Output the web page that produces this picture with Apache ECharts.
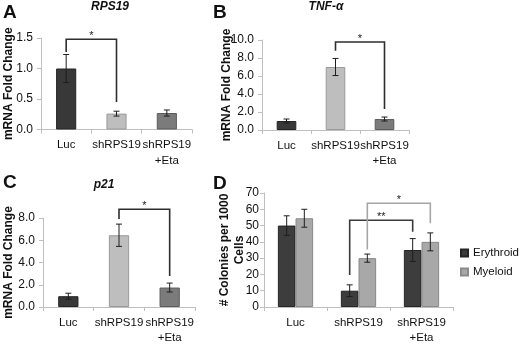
<!DOCTYPE html>
<html>
<head>
<meta charset="utf-8">
<script src="https://cdn.jsdelivr.net/npm/echarts@6/dist/echarts.min.js"></script>
<style>
  html, body { margin: 0; padding: 0; background: #fff; }
  #chart { width: 520px; height: 346px; }
</style>
</head>
<body>
<div id="chart"></div>
<script>
// 数据
const categories = ['Luc', 'shRPS19', 'shRPS19\n+Eta']

const rpsMean = [1.0, 0.26, 0.27]
const rpsErr = [0.23, 0.04, 0.05]

const tnfMean = [1.0, 7.0, 1.22]
const tnfErr = [0.22, 0.95, 0.22]

const p21Mean = [0.97, 6.45, 1.75]
const p21Err = [0.27, 1.0, 0.4]

const erythroidMean = [50, 10, 35]
const erythroidErr = [6, 3.6, 7]
const myeloidMean = [54.5, 30, 40]
const myeloidErr = [5.5, 2.5, 5.5]

// 显著性标记 [起始类别, 结束类别, 横线高度, 左端底, 右端底]
const rpsSig = [[0, 1, 1.48, 1.27, 0.45]]
const tnfSig = [[1, 2, 9.78, 8.8, 2.33]]
const p21Sig = [[1, 2, 8.79, 7.91, 2.79]]
// D: [起始类别, 起始序列, 结束类别, 结束序列, 横线高度, 左端底, 右端底, 文本]
const colonySig = [
  [1, 0, 2, 0, 53.3, 19.6, 46.2, '**'],
  [1, 1, 2, 1, 63.7, 35.3, 51.5, '*']
]

const font = "'Liberation Sans', Arial, sans-serif"
const barColors = ['#383838', '#bebebe', '#7b7b7b']
const barBorders = ['#242424', '#9a9a9a', '#5c5c5c']
const axisGray = '#bfbfbf'
const pairWidth = 0.28

const chart = echarts.init(document.getElementById('chart'))

function errRender(offset) {
  return function (params, api) {
    const cat = api.value(0)
    const mean = api.value(1)
    const err = api.value(2)
    const band = api.size([1, 0])[0]
    const top = api.coord([cat, mean + err])
    const bot = api.coord([cat, mean - err])
    const x = top[0] + offset * band
    const style = { stroke: '#1e1e1e', lineWidth: 1 }
    return {
      type: 'group',
      children: [
        { type: 'line', shape: { x1: x, y1: top[1], x2: x, y2: bot[1] }, style },
        { type: 'line', shape: { x1: x - 3, y1: top[1], x2: x + 3, y2: top[1] }, style },
        { type: 'line', shape: { x1: x - 3, y1: bot[1], x2: x + 3, y2: bot[1] }, style }
      ]
    }
  }
}

function sigRender(color) {
  return function (params, api) {
    const d = params.dataIndex
    const item = params.seriesId === 'sigD' ? colonySig[d] : null
    let c0, o0, c1, o1, yTop, yL, yR, label
    if (item) {
      [c0, o0, c1, o1, yTop, yL, yR, label] = item
      o0 = o0 === 0 ? -pairWidth / 2 : pairWidth / 2
      o1 = o1 === 0 ? -pairWidth / 2 : pairWidth / 2
    } else {
      c0 = api.value(0); c1 = api.value(1)
      yTop = api.value(2); yL = api.value(3); yR = api.value(4)
      o0 = 0; o1 = 0
      label = '*'
    }
    const band = api.size([1, 0])[0]
    const pl = api.coord([c0, yL])
    const pt = api.coord([c0, yTop])
    const pr = api.coord([c1, yR])
    const xl = pl[0] + o0 * band
    const xr = pr[0] + o1 * band
    const lineColor = typeof color === 'function' ? color(d) : color
    return {
      type: 'group',
      children: [
        {
          type: 'polyline',
          shape: { points: [[xl, pl[1]], [xl, pt[1]], [xr, pt[1]], [xr, pr[1]]] },
          style: { stroke: lineColor, lineWidth: 1.6, fill: null }
        },
        {
          type: 'text',
          x: (xl + xr) / 2,
          y: pt[1] - 3,
          style: {
            text: label, align: 'center', verticalAlign: 'middle',
            font: '11px ' + font, fill: '#222'
          }
        }
      ]
    }
  }
}

function xAxisOf(gi) {
  return {
    type: 'category', gridIndex: gi, data: categories,
    axisLine: { lineStyle: { color: axisGray } },
    axisTick: { show: true, length: 4, lineStyle: { color: axisGray } },
    axisLabel: { interval: 0, color: '#111', fontSize: 11.5, fontFamily: font, lineHeight: 15.5, margin: 8 }
  }
}

function yAxisOf(gi, max, step, digits, name, gap, labelMargin) {
  return {
    type: 'value', gridIndex: gi, min: 0, max, interval: step,
    name, nameLocation: 'middle', nameGap: gap, nameRotate: 90, nameMoveOverlap: false,
    nameTextStyle: { fontSize: 12, fontWeight: 'bold', fontFamily: font, color: '#111', lineHeight: 15 },
    axisLine: { show: true, lineStyle: { color: axisGray } },
    axisTick: { show: true, length: 4, lineStyle: { color: axisGray } },
    splitLine: { show: false },
    axisLabel: {
      color: '#111', fontSize: 12, fontFamily: font, margin: labelMargin,
      formatter: v => v.toFixed(digits)
    }
  }
}

function barSeries(gi, values) {
  return {
    type: 'bar', xAxisIndex: gi, yAxisIndex: gi, barWidth: '40%',
    data: values.map((v, i) => ({
      value: v,
      itemStyle: { color: barColors[i], borderColor: barBorders[i], borderWidth: 1 }
    })),
    silent: true
  }
}

function errSeries(gi, means, errs, offset) {
  return {
    type: 'custom', xAxisIndex: gi, yAxisIndex: gi, z: 5,
    renderItem: errRender(offset || 0),
    data: means.map((m, i) => [i, m, errs[i]]),
    silent: true
  }
}

function sigSeries(gi, rows) {
  return {
    type: 'custom', xAxisIndex: gi, yAxisIndex: gi, z: 6,
    renderItem: sigRender('#2e2e2e'),
    data: rows,
    silent: true
  }
}

const titleStyle = { fontSize: 12, fontWeight: 'bold', fontStyle: 'italic', fontFamily: font, color: '#111' }
const letterStyle = { fontSize: 19, fontWeight: 'bold', fontFamily: font, color: '#111' }

chart.setOption({
  animation: false,
  title: [
    { text: 'A', left: 3, top: 3, padding: 0, textStyle: letterStyle },
    { text: 'B', left: 213, top: 3, padding: 0, textStyle: letterStyle },
    { text: 'C', left: 3, top: 173, padding: 0, textStyle: letterStyle },
    { text: 'D', left: 213, top: 174, padding: 0, textStyle: letterStyle },
    { text: 'RPS19', left: 110, top: 1, padding: 0, textAlign: 'center', textStyle: titleStyle },
    { text: 'TNF-α', left: 326, top: 1, padding: 0, textAlign: 'center', textStyle: titleStyle },
    { text: 'p21', left: 104, top: 179, padding: 0, textAlign: 'center', textStyle: titleStyle }
  ],
  legend: {
    orient: 'vertical', left: 460, top: 247, padding: 0,
    itemWidth: 7, itemHeight: 7, itemGap: 7,
    icon: 'rect',
    textStyle: { fontSize: 11.5, fontFamily: font, color: '#111' },
    data: ['Erythroid', 'Myeloid']
  },
  grid: [
    { left: 41, top: 38, width: 151, height: 91.5 },
    { left: 262, top: 40, width: 147, height: 90 },
    { left: 42, top: 218, width: 153, height: 91 },
    { left: 264, top: 193, width: 189, height: 118.5 }
  ],
  xAxis: [xAxisOf(0), xAxisOf(1), xAxisOf(2), xAxisOf(3)],
  yAxis: [
    yAxisOf(0, 1.5, 0.5, 1, 'mRNA Fold Change', 25, 8),
    yAxisOf(1, 10, 2, 1, 'mRNA Fold Change', 28, 8),
    yAxisOf(2, 8, 2, 1, 'mRNA Fold Change', 27, 8),
    yAxisOf(3, 70, 10, 0, '# Colonies per 1000\nCells', 17, 5)
  ],
  series: [
    barSeries(0, rpsMean), errSeries(0, rpsMean, rpsErr), sigSeries(0, rpsSig),
    barSeries(1, tnfMean), errSeries(1, tnfMean, tnfErr), sigSeries(1, tnfSig),
    barSeries(2, p21Mean), errSeries(2, p21Mean, p21Err), sigSeries(2, p21Sig),
    {
      name: 'Erythroid', type: 'bar', xAxisIndex: 3, yAxisIndex: 3,
      barWidth: (pairWidth * 100) + '%', barGap: '0%',
      itemStyle: { color: '#3d3d3d', borderColor: '#262626', borderWidth: 1 },
      data: erythroidMean, silent: true
    },
    {
      name: 'Myeloid', type: 'bar', xAxisIndex: 3, yAxisIndex: 3,
      barWidth: (pairWidth * 100) + '%', barGap: '0%',
      itemStyle: { color: '#a8a8a8', borderColor: '#8a8a8a', borderWidth: 1 },
      data: myeloidMean, silent: true
    },
    errSeries(3, erythroidMean, erythroidErr, -pairWidth / 2),
    errSeries(3, myeloidMean, myeloidErr, pairWidth / 2),
    {
      id: 'sigD', type: 'custom', xAxisIndex: 3, yAxisIndex: 3, z: 6,
      renderItem: sigRender(i => (i === 0 ? '#3a3a3a' : '#a6a6a6')),
      data: colonySig.map(r => [r[0], r[2], r[4], r[5], r[6]]),
      silent: true
    }
  ]
})
</script>
</body>
</html>
